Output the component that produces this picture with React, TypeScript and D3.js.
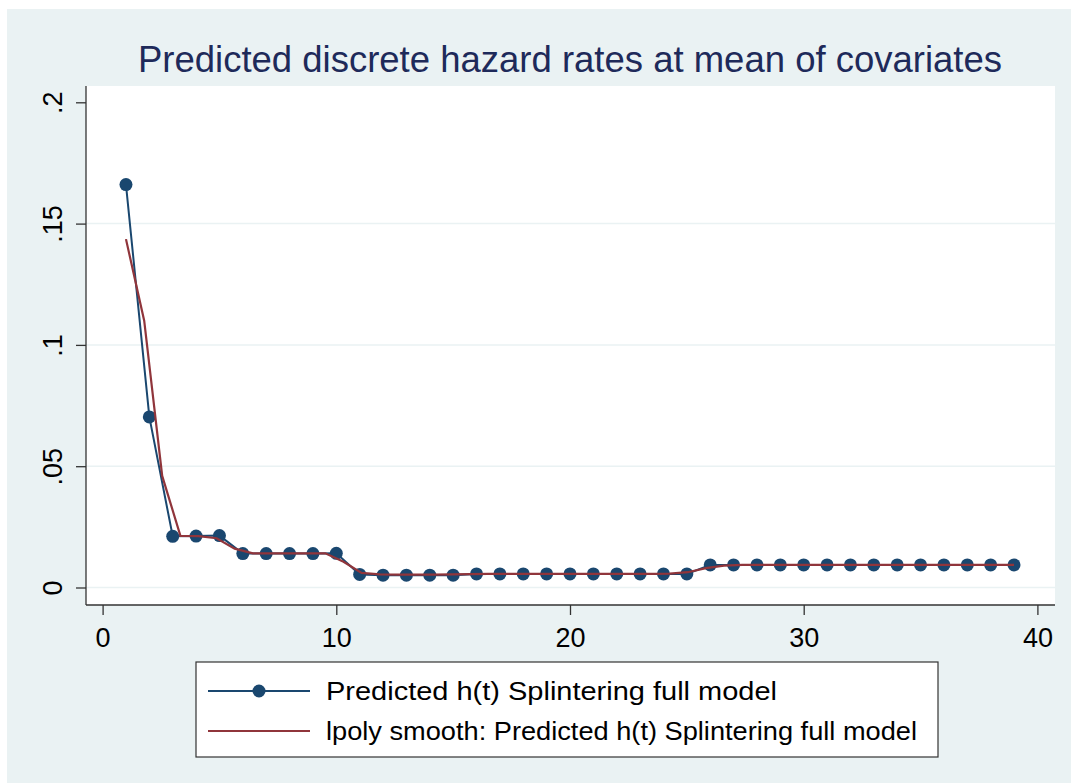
import * as d3 from 'd3';
import { useEffect, useRef } from 'react';

// time periods and predicted hazards (blue series, markers)
const periods = [
  1, 2, 3, 4, 5, 6, 7, 8, 9, 10, 11, 12, 13, 14, 15, 16, 17, 18, 19, 20,
  21, 22, 23, 24, 25, 26, 27, 28, 29, 30, 31, 32, 33, 34, 35, 36, 37, 38, 39,
];
const hazard = [
  0.1661, 0.0703, 0.0211, 0.0212, 0.0214, 0.0140, 0.0140, 0.0140, 0.0140, 0.0141,
  0.0054, 0.0051, 0.0051, 0.0051, 0.0051, 0.0056, 0.0056, 0.0056, 0.0056, 0.0056,
  0.0056, 0.0056, 0.0056, 0.0056, 0.0056, 0.0093, 0.0093, 0.0093, 0.0093, 0.0093,
  0.0093, 0.0093, 0.0093, 0.0093, 0.0093, 0.0093, 0.0093, 0.0093, 0.0093,
];

// lpoly grid (50 points) and smoothed hazard (red series)
const smoothGrid = [
  1.00, 1.78, 2.55, 3.33, 4.10, 4.88, 5.65, 6.43, 7.20, 7.98,
  8.76, 9.53, 10.31, 11.08, 11.86, 12.63, 13.41, 14.18, 14.96, 15.73,
  16.51, 17.29, 18.06, 18.84, 19.61, 20.39, 21.16, 21.94, 22.71, 23.49,
  24.27, 25.04, 25.82, 26.59, 27.37, 28.14, 28.92, 29.69, 30.47, 31.24,
  32.02, 32.80, 33.57, 34.35, 35.12, 35.90, 36.67, 37.45, 38.22, 39.00,
];
const smoothHazard = [
  0.1436, 0.1100, 0.0460, 0.0213, 0.0212, 0.0203, 0.0160, 0.0141, 0.0141, 0.0141,
  0.0141, 0.0141, 0.0106, 0.0060, 0.0054, 0.0053, 0.0053, 0.0053, 0.0054, 0.0055,
  0.0056, 0.0056, 0.0056, 0.0056, 0.0056, 0.0056, 0.0056, 0.0056, 0.0056, 0.0056,
  0.0057, 0.0063, 0.0080, 0.0090, 0.0093, 0.0093, 0.0093, 0.0093, 0.0093, 0.0093,
  0.0093, 0.0093, 0.0093, 0.0093, 0.0093, 0.0093, 0.0093, 0.0093, 0.0093, 0.0093,
];

const xTicks = [0, 10, 20, 30, 40];
const yTicks = [0, 0.05, 0.1, 0.15, 0.2];
const yTickLabels = ['0', '.05', '.1', '.15', '.2'];

const title = 'Predicted discrete hazard rates at mean of covariates';
const legendLabels = [
  'Predicted h(t) Splintering full model',
  'lpoly smooth: Predicted h(t) Splintering full model',
];

const WIDTH = 1071;
const HEIGHT = 783;
const BLUE = '#1a476f';
const RED = '#90353b';
const BG = '#eaf2f3';
const FONT = 'Liberation Sans, Arial, sans-serif';

export default function App() {
  const svgRef = useRef<SVGSVGElement | null>(null);

  useEffect(() => {
    const svg = d3.select(svgRef.current);
    svg.selectAll('*').remove();

    const plot = { left: 86, top: 86, right: 1055, bottom: 605 };

    const x = d3.scaleLinear().domain([0, 40]).range([102.6, 1037.4]);
    const y = d3.scaleLinear().domain([0, 0.2]).range([587.5, 102.3]);

    // background
    svg.append('rect').attr('width', WIDTH).attr('height', HEIGHT).attr('fill', '#fff');
    svg.append('rect')
      .attr('x', 7).attr('y', 9)
      .attr('width', WIDTH - 7).attr('height', HEIGHT - 9)
      .attr('fill', BG);
    svg.append('rect')
      .attr('x', plot.left).attr('y', plot.top)
      .attr('width', plot.right - plot.left).attr('height', plot.bottom - plot.top)
      .attr('fill', '#fff');

    // title
    svg.append('text')
      .attr('x', 570).attr('y', 72)
      .attr('text-anchor', 'middle')
      .attr('font-family', FONT)
      .attr('font-size', 36)
      .attr('fill', '#1e2a5a')
      .attr('textLength', 864)
      .attr('lengthAdjust', 'spacingAndGlyphs')
      .text(title);

    // gridlines
    svg.append('g')
      .selectAll('line')
      .data(yTicks.filter((t) => t < 0.2))
      .enter()
      .append('line')
      .attr('x1', plot.left).attr('x2', plot.right)
      .attr('y1', (d) => y(d)).attr('y2', (d) => y(d))
      .attr('stroke', BG)
      .attr('stroke-width', 1.5);

    // axes
    const yAxis = svg.append('g')
      .attr('transform', `translate(${plot.left},0)`)
      .call(d3.axisLeft(y).tickValues(yTicks).tickSize(10).tickFormat((_, i) => yTickLabels[i]));
    yAxis.select('.domain').attr('d', `M0,${plot.top}V${plot.bottom}`).attr('stroke', '#333').attr('stroke-width', 1.3);
    yAxis.selectAll('.tick line').attr('stroke', '#333').attr('stroke-width', 1.3);
    yAxis.selectAll('.tick text')
      .attr('x', null).attr('dy', null)
      .attr('transform', 'translate(-24,0) rotate(-90)')
      .attr('text-anchor', 'middle')
      .attr('font-family', FONT)
      .attr('font-size', 27)
      .attr('fill', '#000');

    const xAxis = svg.append('g')
      .attr('transform', `translate(0,${plot.bottom})`)
      .call(d3.axisBottom(x).tickValues(xTicks).tickSize(10).tickFormat(d3.format('d')));
    xAxis.select('.domain').attr('d', `M${plot.left},0H${plot.right}`).attr('stroke', '#333').attr('stroke-width', 1.3);
    xAxis.selectAll('.tick line').attr('stroke', '#333').attr('stroke-width', 1.3);
    xAxis.selectAll('.tick text')
      .attr('y', 42).attr('dy', null)
      .attr('font-family', FONT)
      .attr('font-size', 27)
      .attr('fill', '#000');

    // blue series
    const points = periods.map((t, i) => ({ t, v: hazard[i] }));
    const line = d3.line<{ t: number; v: number }>()
      .x((d) => x(d.t))
      .y((d) => y(d.v));

    svg.append('path')
      .datum(points)
      .attr('fill', 'none')
      .attr('stroke', BLUE)
      .attr('stroke-width', 2)
      .attr('d', line);

    svg.append('g')
      .selectAll('circle')
      .data(points)
      .enter()
      .append('circle')
      .attr('cx', (d) => x(d.t))
      .attr('cy', (d) => y(d.v))
      .attr('r', 6.5)
      .attr('fill', BLUE);

    // red smooth
    const smooth = smoothGrid.map((t, i) => ({ t, v: smoothHazard[i] }));
    svg.append('path')
      .datum(smooth)
      .attr('fill', 'none')
      .attr('stroke', RED)
      .attr('stroke-width', 2.2)
      .attr('d', line);

    // legend
    const legend = svg.append('g');
    legend.append('rect')
      .attr('x', 196).attr('y', 662)
      .attr('width', 742).attr('height', 95)
      .attr('fill', '#fff')
      .attr('stroke', '#333')
      .attr('stroke-width', 1.2);

    const rows = [
      { label: legendLabels[0], color: BLUE, marker: true, cy: 691, len: 451 },
      { label: legendLabels[1], color: RED, marker: false, cy: 731, len: 591 },
    ];
    rows.forEach((r) => {
      legend.append('line')
        .attr('x1', 208).attr('x2', 310)
        .attr('y1', r.cy).attr('y2', r.cy)
        .attr('stroke', r.color)
        .attr('stroke-width', 2);
      if (r.marker) {
        legend.append('circle')
          .attr('cx', 259).attr('cy', r.cy)
          .attr('r', 6.5)
          .attr('fill', r.color);
      }
      legend.append('text')
        .attr('x', 326).attr('y', r.cy + 9)
        .attr('font-family', FONT)
        .attr('font-size', 26)
        .attr('fill', '#000')
        .attr('textLength', r.len)
        .attr('lengthAdjust', 'spacingAndGlyphs')
        .text(r.label);
    });
  }, []);

  return (
    <svg
      ref={svgRef}
      width={WIDTH}
      height={HEIGHT}
      style={{ position: 'absolute', left: 0, top: 0 }}
    />
  );
}
